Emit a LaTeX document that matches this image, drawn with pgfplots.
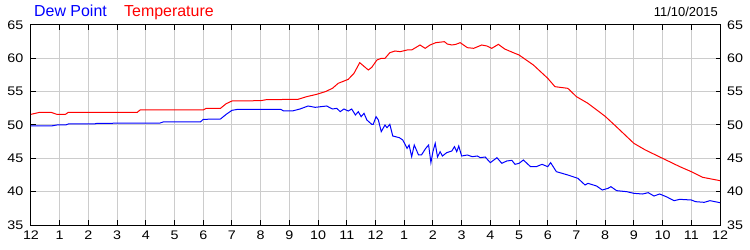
\documentclass[border=0pt]{standalone}
\usepackage{pgfplots}
\pgfplotsset{compat=1.18}
\usepackage{fontspec}
\setmainfont{Liberation Sans}
\newfontfamily\tickfont[FakeStretch=1.15]{Liberation Sans}
\definecolor{gridgray}{RGB}{204,204,204}
\begin{document}
\begin{tikzpicture}
\useasboundingbox (-31bp,-25bp) rectangle (719bp,225bp);
\begin{axis}[at={(0,0)}, anchor=south west, scale only axis,
  width=689bp, height=200bp,
  xmin=0, xmax=24, ymin=35, ymax=65,
  xtick={0,...,24},
  xticklabels={12,1,2,3,4,5,6,7,8,9,10,11,12,1,2,3,4,5,6,7,8,9,10,11,12},
  ytick={35,40,...,65},
  grid=major, major grid style={gridgray, line width=1bp},
  axis line style={line width=1bp},
  xtick pos=both, ytick pos=both, tick align=inside,
  major tick length=4.5bp,
  tick style={black, line width=1bp},
  yticklabel pos=left,
  ticklabel style={font=\tickfont\fontsize{12.5}{14}\selectfont, inner sep=0pt},
  /pgf/number format/assume math mode=true,
  xticklabel style={anchor=north, yshift=-6bp},
  yticklabel style={anchor=east, xshift=-7.5bp},
]
\addplot[blue, line width=1bp] coordinates {
(0,49.85)(0.7,49.85)(0.9,50.0)(1.2,50.0)(1.3,50.15)(2.2,50.15)(2.3,50.25)(4.5,50.3)(4.6,50.45)(5.9,50.45)
(6.0,50.85)(6.6,50.9)(6.8,51.6)(7.0,52.2)(7.2,52.35)(8.7,52.35)(8.8,52.1)(9.1,52.1)(9.37,52.4)(9.65,52.85)
(9.9,52.65)(10.3,52.85)(10.5,52.4)(10.65,52.5)(10.77,52.0)(10.9,52.4)(11.05,52.1)(11.17,52.4)(11.3,51.5)(11.4,52.0)
(11.5,51.25)(11.6,51.75)(11.7,50.75)(11.87,50.1)(11.92,50.1)(12.02,51.25)(12.1,50.75)(12.2,49.0)(12.33,50.0)(12.4,49.6)
(12.5,50.1)(12.6,48.35)(12.83,48.1)(12.95,47.75)(13.04,47.0)(13.1,46.5)(13.17,47.0)(13.26,45.25)(13.35,47.0)(13.5,45.5)
(13.6,45.5)(13.75,46.5)(13.85,47.0)(13.93,44.35)(14.0,46.0)(14.08,47.25)(14.16,45.2)(14.25,46.0)(14.33,45.35)(14.48,45.85)
(14.66,46.1)(14.75,46.75)(14.83,46.0)(14.9,46.85)(15.0,45.35)(15.2,45.5)(15.37,45.25)(15.55,45.35)(15.65,45.1)(15.82,45.2)
(16.0,44.35)(16.23,45.1)(16.4,44.25)(16.57,44.6)(16.75,44.7)(16.86,44.1)(17.0,44.25)(17.15,44.75)(17.4,43.75)(17.6,43.75)
(17.8,44.1)(18.0,43.75)(18.1,44.35)(18.3,43.0)(18.5,42.75)(18.7,42.5)(19.05,42.0)(19.3,41.0)(19.4,41.25)(19.7,40.85)
(19.9,40.25)(20.1,40.5)(20.2,40.75)(20.4,40.15)(20.75,40.0)(21.0,39.75)(21.3,39.65)(21.5,39.85)(21.7,39.35)(21.9,39.65)
(22.15,39.2)(22.4,38.65)(22.6,38.85)(23.0,38.75)(23.15,38.5)(23.45,38.4)(23.65,38.65)(24.0,38.35)
};
\addplot[red, line width=1bp] coordinates {
(0,51.6)(0.3,51.9)(0.7,51.9)(0.9,51.6)(1.2,51.6)(1.3,51.9)(3.7,51.9)(3.8,52.25)(6.0,52.25)(6.1,52.5)
(6.6,52.5)(6.8,53.2)(7.0,53.6)(8.0,53.65)(8.2,53.8)(9.3,53.85)(9.6,54.25)(9.95,54.6)(10.25,55.0)(10.5,55.5)
(10.7,56.25)(11.05,56.85)(11.25,57.75)(11.45,59.35)(11.75,58.25)(11.87,58.65)(12.05,59.75)(12.2,60.0)(12.33,60.0)(12.5,60.85)
(12.68,61.1)(12.86,61.0)(13.1,61.25)(13.26,61.25)(13.55,62.0)(13.73,61.5)(13.9,62.0)(14.1,62.35)(14.4,62.5)(14.5,62.15)
(14.66,62.0)(14.8,62.1)(14.95,62.35)(15.2,61.6)(15.42,61.5)(15.7,62.0)(15.88,61.85)(16.05,61.5)(16.28,62.1)(16.5,61.4)
(16.8,60.85)(17.0,60.5)(17.5,59.0)(18.0,57.0)(18.25,55.75)(18.7,55.5)(19.0,54.25)(19.4,53.25)(20.0,51.3)(20.4,49.7)
(21.0,47.25)(21.4,46.25)(22.0,45.0)(22.6,43.75)(23.0,43.0)(23.4,42.15)(24.0,41.65)
};
\end{axis}
\begin{axis}[at={(0,0)}, anchor=south west, scale only axis,
  width=689bp, height=200bp,
  xmin=0, xmax=24, ymin=35, ymax=65,
  xtick=\empty, ytick={35,40,...,65},
  axis line style={draw=none},
  y tick style={draw=none},
  yticklabel pos=right,
  ticklabel style={font=\tickfont\fontsize{12.5}{14}\selectfont, inner sep=0pt},
  yticklabel style={anchor=west, xshift=7bp},
  /pgf/number format/assume math mode=true,
]
\addplot[draw=none] coordinates {(0,50)};
\end{axis}
\node[anchor=base west, text=blue, font=\fontsize{16}{18}\selectfont, inner sep=0pt] at (3bp,208bp) {Dew Point};
\node[anchor=base west, text=red, font=\fontsize{16}{18}\selectfont, inner sep=0pt] at (93bp,208bp) {Temperature};
\node[anchor=base east, font=\fontsize{13}{15}\selectfont, inner sep=0pt] at (687bp,208bp) {11/10/2015};
\end{tikzpicture}
\end{document}
